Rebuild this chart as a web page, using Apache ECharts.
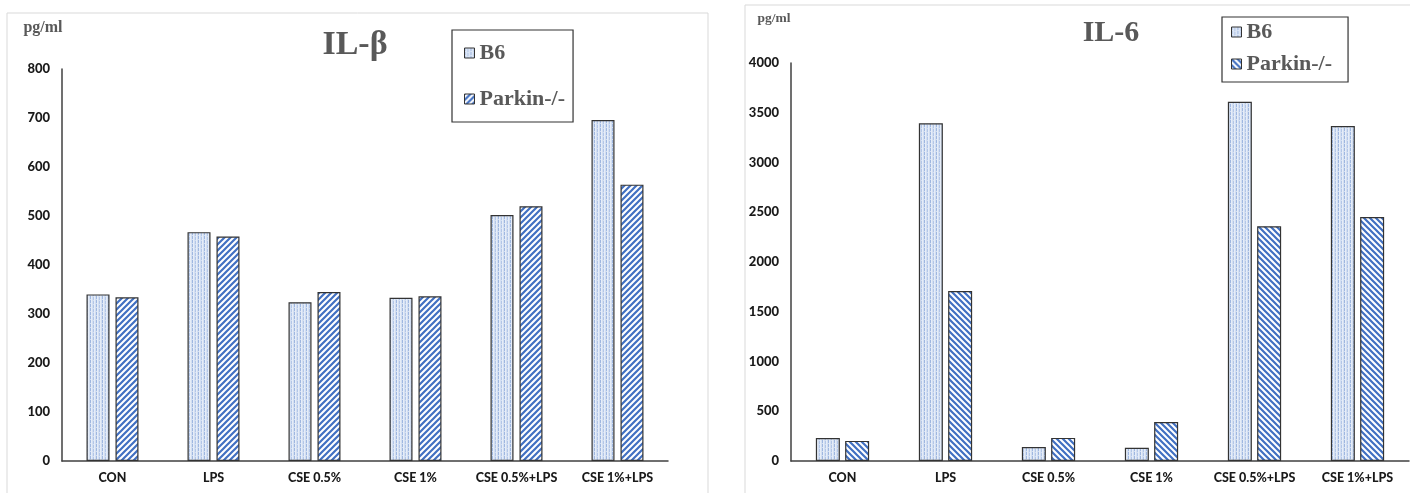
<!DOCTYPE html>
<html>
<head>
<meta charset="utf-8">
<script src="https://cdn.jsdelivr.net/npm/echarts@6/dist/echarts.min.js"></script>
<style>
html,body{margin:0;padding:0;background:#fff;}
#main{width:1410px;height:493px;}
</style>
</head>
<body>
<div id="main"></div>
<script>
var categories = ['CON', 'LPS', 'CSE 0.5%', 'CSE 1%', 'CSE 0.5%+LPS', 'CSE 1%+LPS'];
var il1bB6 = [340, 467, 324, 333, 502, 696];
var il1bParkin = [334, 458, 345, 336, 520, 564];
var il6B6 = [231, 3395, 140, 132, 3610, 3367];
var il6Parkin = [202, 1708, 232, 392, 2360, 2452];
var il1bTicks = [0, 800, 100];
var il6Ticks = [0, 4000, 500];
var seriesNames = ['B6', 'Parkin-/-'];

function dotPattern() {
  var c = document.createElement('canvas');
  c.width = 6; c.height = 4;
  var g = c.getContext('2d');
  g.fillStyle = '#d3dff2';
  g.fillRect(0, 0, 6, 4);
  g.fillStyle = '#9fb7e0';
  g.fillRect(0, 0, 1, 3);
  g.fillStyle = '#b2c6e8';
  g.fillRect(3, 1, 1, 3);
  g.fillStyle = '#e6edf8';
  g.fillRect(1, 0, 1, 4);
  g.fillRect(4, 0, 1, 4);
  return {image: c, repeat: 'repeat'};
}
function diagPattern(dir) {
  var s = 6;
  var c = document.createElement('canvas');
  c.width = s; c.height = s;
  var g = c.getContext('2d');
  g.fillStyle = '#ffffff';
  g.fillRect(0, 0, s, s);
  g.strokeStyle = '#4170c2';
  g.lineWidth = 2.2;
  g.beginPath();
  if (dir === '/') {
    g.moveTo(-1, s + 1); g.lineTo(s + 1, -1);
    g.moveTo(-1, 1); g.lineTo(1, -1);
    g.moveTo(s - 1, s + 1); g.lineTo(s + 1, s - 1);
  } else {
    g.moveTo(-1, -1); g.lineTo(s + 1, s + 1);
    g.moveTo(s - 1, -1); g.lineTo(s + 1, 1);
    g.moveTo(-1, s - 1); g.lineTo(1, s + 1);
  }
  g.stroke();
  return {image: c, repeat: 'repeat'};
}

var pB6 = dotPattern();
var pSlash = diagPattern('/');
var pBack = diagPattern('\\');

var labelFont = 'Lato';
var serif = 'Liberation Serif';
var grey = '#595959';

function xAxis(idx) {
  return {
    type: 'category', gridIndex: idx, data: categories,
    axisLine: {lineStyle: {color: '#404040', width: 1.5}},
    axisTick: {show: false},
    axisLabel: {fontFamily: labelFont, fontWeight: 900, fontSize: 12.5, color: '#1a1a1a', margin: 10, interval: 0}
  };
}
function yAxis(idx, t) {
  return {
    type: 'value', gridIndex: idx, min: t[0], max: t[1], interval: t[2],
    axisLine: {show: true, lineStyle: {color: '#404040', width: 1.5}},
    axisTick: {show: false},
    splitLine: {show: false},
    axisLabel: {fontFamily: labelFont, fontWeight: 900, fontSize: 13, color: '#1a1a1a', margin: 12,
      formatter: function (v) { return String(v); }}
  };
}
function bar(name, data, idx, pat, w, gap) {
  return {
    type: 'bar', name: name, xAxisIndex: idx, yAxisIndex: idx, data: data,
    barWidth: w, barGap: gap,
    itemStyle: {color: pat, borderColor: '#333333', borderWidth: 1.2},
    emphasis: {disabled: true}, animation: false
  };
}

var chart = echarts.init(document.getElementById('main'), null, {renderer: 'canvas'});
chart.setOption({
  animation: false,
  backgroundColor: '#ffffff',
  grid: [
    {left: 62, top: 69, width: 606, height: 392},
    {left: 791, top: 63, width: 618, height: 398}
  ],
  xAxis: [xAxis(0), xAxis(1)],
  yAxis: [yAxis(0, il1bTicks), yAxis(1, il6Ticks)],
  legend: [
    {
      orient: 'vertical', left: 452, top: 30,
      data: [{name: seriesNames[0], itemStyle: {color: pB6, borderColor: '#333', borderWidth: 1}},
             {name: seriesNames[1], itemStyle: {color: pSlash, borderColor: '#333', borderWidth: 1}}],
      borderColor: '#333', borderWidth: 1.2,
      padding: [12, 8, 12, 12], itemGap: 24,
      itemWidth: 10, itemHeight: 10, icon: 'rect', selectedMode: false, itemTextGap: 4,
      textStyle: {fontFamily: serif, fontWeight: 'bold', fontSize: 22, color: grey}
    },
    {
      orient: 'vertical', left: 1222, top: 17,
      data: [{name: seriesNames[0], itemStyle: {color: pB6, borderColor: '#333', borderWidth: 1}},
             {name: seriesNames[1], itemStyle: {color: pBack, borderColor: '#333', borderWidth: 1}}],
      borderColor: '#333', borderWidth: 1.2,
      padding: [4, 16, 7, 9], itemGap: 10,
      itemWidth: 10, itemHeight: 10, icon: 'rect', selectedMode: false, itemTextGap: 5,
      textStyle: {fontFamily: serif, fontWeight: 'bold', fontSize: 22, color: grey}
    }
  ],
  graphic: [
    {type: 'rect', shape: {x: 7, y: 13, width: 701, height: 500}, style: {fill: 'none', stroke: '#d9d9d9', lineWidth: 1}, silent: true, z: -10},
    {type: 'rect', shape: {x: 745, y: 5, width: 700, height: 500}, style: {fill: 'none', stroke: '#d9d9d9', lineWidth: 1}, silent: true, z: -10},
    {type: 'text', x: 355, y: 45, style: {text: 'IL-β', fontFamily: serif, fontWeight: 'bold', fontSize: 34, fill: grey, textAlign: 'center', textVerticalAlign: 'middle'}},
    {type: 'text', x: 43, y: 28, style: {text: 'pg/ml', fontFamily: serif, fontWeight: 'bold', fontSize: 16, fill: grey, textAlign: 'center', textVerticalAlign: 'middle'}},
    {type: 'text', x: 1111, y: 33, style: {text: 'IL-6', fontFamily: serif, fontWeight: 'bold', fontSize: 30, fill: grey, textAlign: 'center', textVerticalAlign: 'middle'}},
    {type: 'text', x: 774, y: 19, style: {text: 'pg/ml', fontFamily: serif, fontWeight: 'bold', fontSize: 13.5, fill: grey, textAlign: 'center', textVerticalAlign: 'middle'}}
  ],
  series: [
    bar(seriesNames[0], il1bB6, 0, pB6, 23, '26%'),
    bar(seriesNames[1], il1bParkin, 0, pSlash, 23, '26%'),
    bar(seriesNames[0], il6B6, 1, pB6, 24, '22%'),
    bar(seriesNames[1], il6Parkin, 1, pBack, 24, '22%')
  ]
});
</script>
</body>
</html>
